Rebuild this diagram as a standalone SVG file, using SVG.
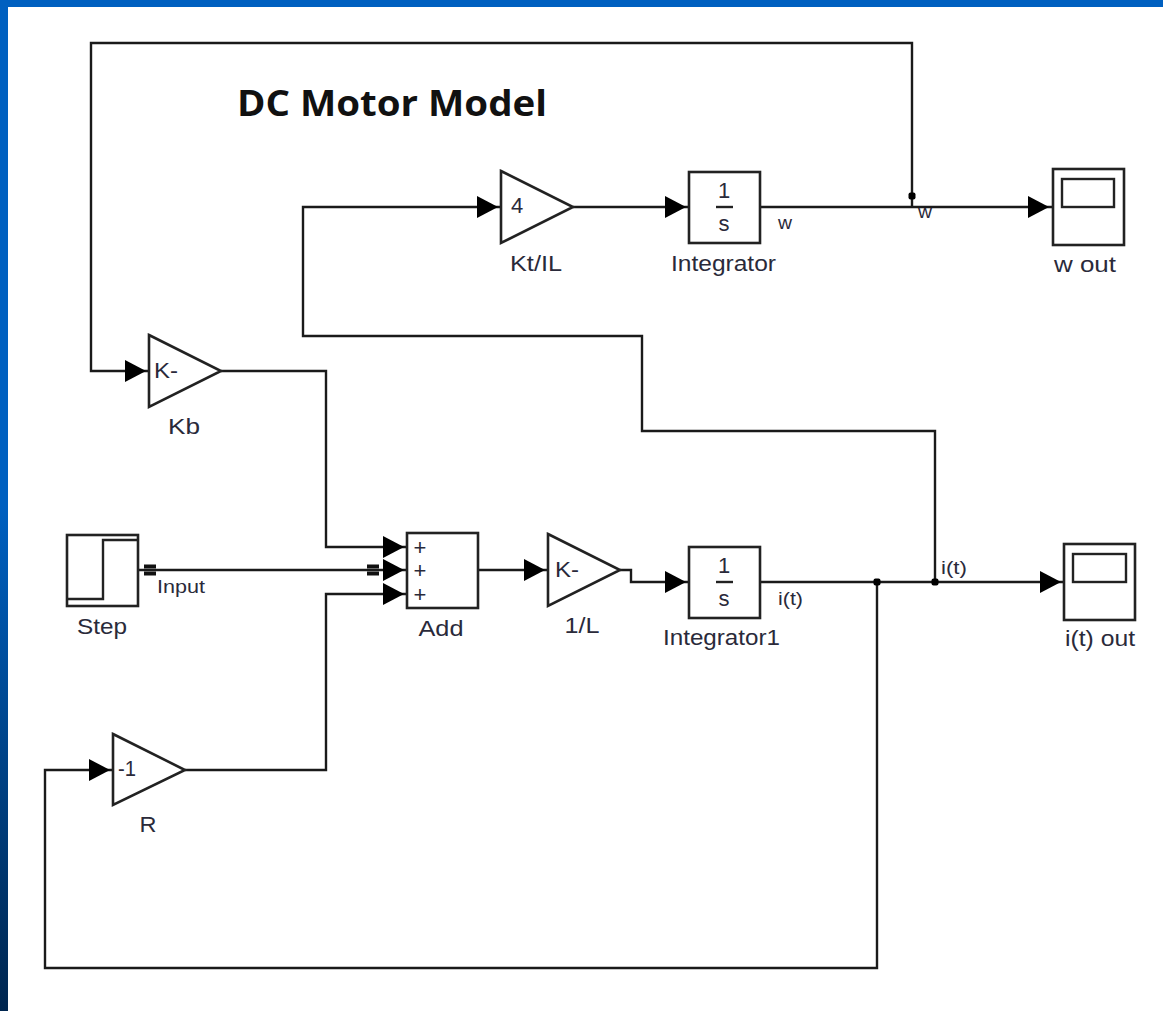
<svg xmlns="http://www.w3.org/2000/svg" width="1163" height="1011" viewBox="0 0 1163 1011">
<style>
.b{fill:#fff;stroke:#222;stroke-width:2.6}
.i{fill:none;stroke:#222;stroke-width:2.4}
.w{fill:none;stroke:#1a1a1a;stroke-width:2.4}
.t{font-family:"Liberation Sans",Arial,sans-serif;font-size:22px;fill:#2a2a3a;text-anchor:middle}
.s{font-family:"Liberation Sans",Arial,sans-serif;font-size:18px;fill:#2a2a3a}
.h{fill:#000}
.d{fill:#000}
</style>
<defs>
<linearGradient id="bg" x1="0" y1="0" x2="0" y2="1"><stop offset="0" stop-color="#0060c0"/><stop offset="0.5" stop-color="#0060c0"/><stop offset="1" stop-color="#00264f"/></linearGradient>
<path id="a" d="M-12,-11 L9,0 L-12,11Z" class="h"/>
</defs>
<rect width="1163" height="1011" fill="url(#bg)"/>
<rect x="0" y="0" width="1163" height="7" fill="#0060c0"/>
<rect x="8" y="7" width="1155" height="1004" fill="#fff"/>
<text id="title" x="237" y="116" font-family="Open Sans,'Liberation Sans',sans-serif" font-size="35" font-weight="700" fill="#111" textLength="310" lengthAdjust="spacingAndGlyphs">DC Motor Model</text>
<g id="connectors">
<path class="w" d="M912,207 V43 H91 V371 H149"/>
<path class="w" d="M221,371 H326 V547 H407"/>
<path class="w" d="M138,570 H407"/>
<path class="w" d="M185,770 H326 V594 H407"/>
<path class="w" d="M479,570 H548"/>
<path class="w" d="M620,570 H631 V582 H689"/>
<path class="w" d="M761,582 H1064"/>
<path class="w" d="M877,582 V968 H45 V770 H113"/>
<path class="w" d="M935,582 V431 H642 V336 H303 V207 H501"/>
<path class="w" d="M573,207 H689"/>
<path class="w" d="M761,207 H1052"/>
<rect class="d" x="908.500" y="192.500" width="7" height="7" rx="2"/>
<rect class="d" x="873.500" y="578.500" width="7" height="7" rx="2"/>
<rect class="d" x="931.500" y="578.500" width="7" height="7" rx="2"/>
<use href="#a" x="489" y="207"/>
<use href="#a" x="677" y="207"/>
<use href="#a" x="1040" y="207"/>
<use href="#a" x="137" y="371"/>
<use href="#a" x="395" y="547"/>
<use href="#a" x="395" y="570"/>
<use href="#a" x="395" y="594"/>
<use href="#a" x="536" y="570"/>
<use href="#a" x="677" y="582"/>
<use href="#a" x="1052" y="582"/>
<use href="#a" x="101" y="770"/>
<path d="M144,566.500 H156 M144,573.500 H156 M367,566.500 H379 M367,573.500 H379" stroke="#111" stroke-width="4" fill="none"/>
</g>
<g id="labels">
<text class="s" x="157" y="593" textLength="48" lengthAdjust="spacingAndGlyphs">Input</text>
<text class="s" x="778" y="229" textLength="14" lengthAdjust="spacingAndGlyphs">w</text>
<text class="s" x="918" y="218" textLength="14" lengthAdjust="spacingAndGlyphs">w</text>
<text class="s" x="778" y="605" textLength="25" lengthAdjust="spacingAndGlyphs">i(t)</text>
<text class="s" x="941" y="574" textLength="26" lengthAdjust="spacingAndGlyphs">i(t)</text>
</g>
<g id="kt"><path class="b" d="M501,171 L573,207 L501,243Z"/><text class="t" x="517" y="213">4</text><text class="t" x="536" y="271" textLength="52" lengthAdjust="spacingAndGlyphs">Kt/IL</text></g>
<g id="integrator"><rect class="b" x="689" y="172" width="71" height="71"/><text class="t" x="724" y="198">1</text><path class="i" d="M716,207 H733"/><text class="t" x="724" y="231">s</text><text class="t" x="723.500" y="271" textLength="105" lengthAdjust="spacingAndGlyphs">Integrator</text></g>
<g id="wout"><rect class="b" x="1053" y="169" width="71" height="76"/><rect class="i" x="1062" y="179" width="52" height="28"/><text class="t" x="1085" y="272" textLength="62" lengthAdjust="spacingAndGlyphs">w out</text></g>
<g id="kb"><path class="b" d="M149,335 L221,371 L149,407Z"/><text class="t" x="166" y="378" textLength="24" lengthAdjust="spacingAndGlyphs">K-</text><text class="t" x="184" y="434" textLength="32" lengthAdjust="spacingAndGlyphs">Kb</text></g>
<g id="step"><rect class="b" x="67" y="535" width="71" height="71"/><path class="i" d="M67,599 H103 V540 H138"/><text class="t" x="102" y="634" textLength="50" lengthAdjust="spacingAndGlyphs">Step</text></g>
<g id="add"><rect class="b" x="407" y="533" width="71" height="75"/><text class="t" x="420" y="555">+</text><text class="t" x="420" y="578">+</text><text class="t" x="420" y="602">+</text><text class="t" x="441" y="636" textLength="45" lengthAdjust="spacingAndGlyphs">Add</text></g>
<g id="gainL"><path class="b" d="M548,534 L620,570 L548,606Z"/><text class="t" x="567" y="577" textLength="24" lengthAdjust="spacingAndGlyphs">K-</text><text class="t" x="582" y="633" textLength="35" lengthAdjust="spacingAndGlyphs">1/L</text></g>
<g id="integrator1"><rect class="b" x="689" y="547" width="71" height="71"/><text class="t" x="724" y="573">1</text><path class="i" d="M716,582 H733"/><text class="t" x="724" y="606">s</text><text class="t" x="721.500" y="645" textLength="117" lengthAdjust="spacingAndGlyphs">Integrator1</text></g>
<g id="iout"><rect class="b" x="1064" y="544" width="71" height="76"/><rect class="i" x="1073" y="554" width="53" height="28"/><text class="t" x="1100" y="646" textLength="70" lengthAdjust="spacingAndGlyphs">i(t) out</text></g>
<g id="r"><path class="b" d="M113,734 L185,770 L113,805Z"/><text class="t" x="127" y="776" textLength="18" lengthAdjust="spacingAndGlyphs">-1</text><text class="t" x="148" y="832" textLength="17" lengthAdjust="spacingAndGlyphs">R</text></g>
</svg>
